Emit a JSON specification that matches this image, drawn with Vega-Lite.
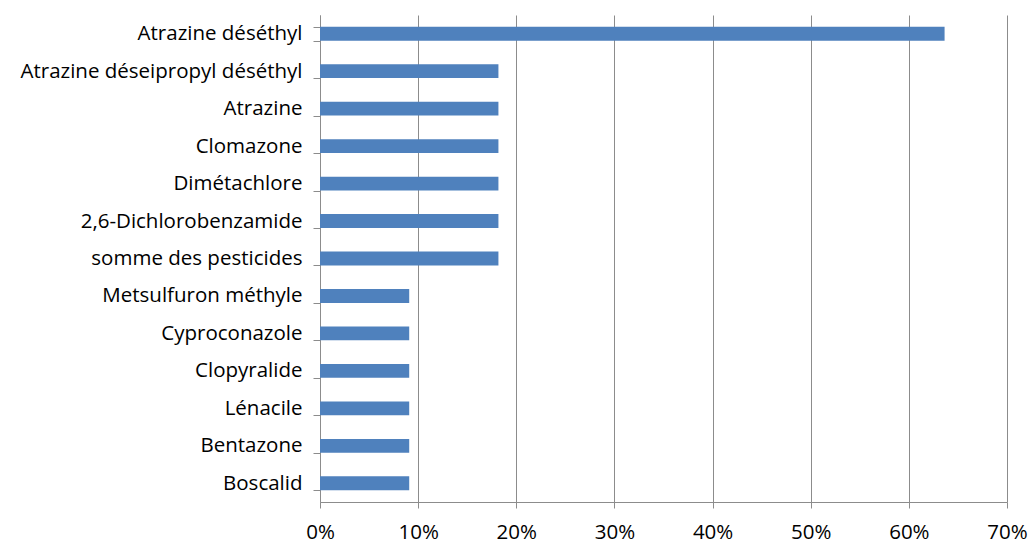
{
  "$schema": "https://vega.github.io/schema/vega-lite/v6.json",
  "width": 687,
  "height": 487,
  "autosize": {"type": "none"},
  "padding": {"left": 320, "top": 15, "right": 22, "bottom": 42},
  "background": "white",
  "config": {
    "view": {"stroke": null},
    "font": "Open Sans",
    "axis": {"labelFont": "Open Sans", "labelFontSize": 20.5, "labelColor": "#000000"}
  },
  "data": {
    "values": [
      {"substance": "Atrazine déséthyl", "value": 0.6364},
      {"substance": "Atrazine déseipropyl déséthyl", "value": 0.1818},
      {"substance": "Atrazine", "value": 0.1818},
      {"substance": "Clomazone", "value": 0.1818},
      {"substance": "Dimétachlore", "value": 0.1818},
      {"substance": "2,6-Dichlorobenzamide", "value": 0.1818},
      {"substance": "somme des pesticides", "value": 0.1818},
      {"substance": "Metsulfuron méthyle", "value": 0.0909},
      {"substance": "Cyproconazole", "value": 0.0909},
      {"substance": "Clopyralide", "value": 0.0909},
      {"substance": "Lénacile", "value": 0.0909},
      {"substance": "Bentazone ", "value": 0.0909},
      {"substance": "Boscalid", "value": 0.0909}
    ]
  },
  "mark": {"type": "bar", "color": "#4F81BD"},
  "encoding": {
    "y": {
      "field": "substance",
      "type": "nominal",
      "sort": null,
      "title": null,
      "scale": {"paddingInner": 0.63, "paddingOuter": 0.315},
      "axis": {
        "tickBand": "extent",
        "grid": false,
        "domainColor": "#8c8c8c",
        "tickColor": "#8c8c8c",
        "tickSize": 7,
        "labelPadding": 11,
        "labelLimit": 400
      }
    },
    "x": {
      "field": "value",
      "type": "quantitative",
      "title": null,
      "scale": {"domain": [0, 0.7], "nice": false},
      "axis": {
        "values": [0, 0.1, 0.2, 0.3, 0.4, 0.5, 0.6, 0.7],
        "format": ".0%",
        "grid": true,
        "gridColor": "#8c8c8c",
        "domainColor": "#8c8c8c",
        "tickColor": "#8c8c8c",
        "tickSize": 6,
        "labelPadding": 14,
        "labelFlush": false
      }
    }
  }
}
